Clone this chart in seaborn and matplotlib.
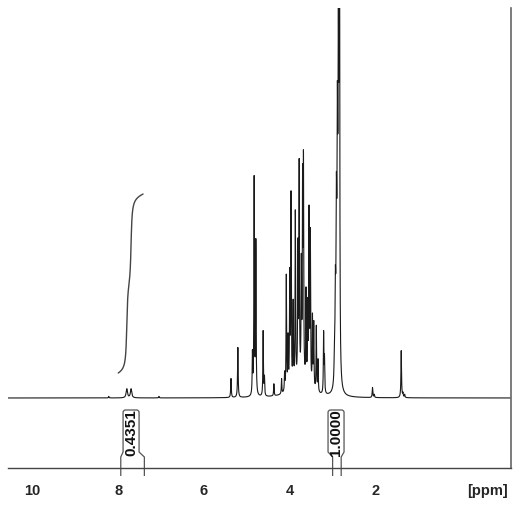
import numpy as np
import pandas as pd
import matplotlib
matplotlib.use("Agg")
import matplotlib.pyplot as plt
import seaborn as sns
from matplotlib.path import Path
from matplotlib.patches import PathPatch

# peak list: position (ppm), height (px above baseline), half width (ppm)
peak_ppm = [8.22, 7.80, 7.70, 7.05, 5.37, 5.21, 4.87, 4.83, 4.79, 4.62, 4.59, 4.37, 4.19, 4.12,
            4.08, 4.04, 4.00, 3.97, 3.92, 3.87, 3.81, 3.78, 3.73, 3.70, 3.68, 3.62, 3.58, 3.55,
            3.52, 3.47, 3.44, 3.38, 3.34, 3.21, 3.19, 3.75,
            2.959, 2.936, 2.912, 2.889, 2.866, 2.842, 2.07, 2.03, 1.40, 1.36, 1.32]
peak_height = [1.5, 9, 9, 1.5, 19, 50, 40, 216, 152, 65, 18, 12, 15, 18,
               115, 50, 110, 190, 80, 170, 130, 212, 110, 188, 208, 90, 75, 170,
               150, 70, 65, 65, 32, 60, 34, 14,
               20, 85, 155, 225, 300, 900, 10, 3, 47, 4, 3]
peak_hw = ([0.008, 0.018, 0.018, 0.008, 0.008, 0.008] + [0.007] * 29 + [0.22]
           + [0.01] * 5 + [0.006] + [0.008] * 5)

# integral regions: (left ppm, right ppm), value shown
integral_ranges = [(7.94, 7.39), (3.00, 2.80)]
integral_values = ["0.4351", "1.0000"]
integral_label_ppm = [7.70, 2.92]
# drawn integral trace (first region), px above baseline
trace_range = (8.00, 7.42)
trace_low, trace_high = 25, 204

xlim = (10.57, -1.16)
ylim = (-70, 390)
major_ticks = [10, 8, 6, 4, 2, 0]
major_labels = ["10", "8", "6", "4", "2", ""]

ppm = np.linspace(xlim[0], xlim[1], 24000)
spec = np.zeros_like(ppm)
for p, h, w in zip(peak_ppm, peak_height, peak_hw):
    spec += h / (1 + ((ppm - p) / w) ** 2)
df = pd.DataFrame({"ppm": ppm, "intensity": spec})

sns.set_style("white")
plt.rcParams["font.family"] = ["Liberation Sans", "DejaVu Sans"]

fig = plt.figure(figsize=(5.19, 5.12), dpi=100)
ax = fig.add_axes([8 / 519, 44 / 512, 503 / 519, 460 / 512])
sns.lineplot(data=df, x="ppm", y="intensity", ax=ax, color="#1a1a1a",
             linewidth=0.8, estimator=None, sort=False)

# integral trace
m = (ppm <= trace_range[0]) & (ppm >= trace_range[1])
cum = np.cumsum(spec[m])
cum = (cum - cum[0]) / (cum[-1] - cum[0])
ax.plot(ppm[m], trace_low + (trace_high - trace_low) * cum, color="#444", lw=1)

# integral label boxes under the baseline
px_per_ppm = 503 / (xlim[0] - xlim[1])
hwb = 8 / px_per_ppm
r = 2.5 / px_per_ppm
for (l1, l2), val, c in zip(integral_ranges, integral_values, integral_label_ppm):
    verts = [(l1, -78), (l1, -59), (c + hwb, -54), (c + hwb, -14.5),
             (c + hwb, -12), (c + hwb - r, -12), (c - hwb + r, -12),
             (c - hwb, -12), (c - hwb, -14.5), (c - hwb, -54), (l2, -59), (l2, -78)]
    codes = [Path.MOVETO, Path.LINETO, Path.LINETO, Path.LINETO,
             Path.CURVE3, Path.CURVE3, Path.LINETO,
             Path.CURVE3, Path.CURVE3, Path.LINETO, Path.LINETO, Path.LINETO]
    ax.add_patch(PathPatch(Path(verts, codes), fill=False, edgecolor="#555",
                           lw=0.9, clip_on=False))
    ax.text(c, -35, val, rotation=90, ha="center", va="center",
            fontsize=11, fontweight="bold", color="#111")

ax.set_xlim(*xlim)
ax.set_ylim(*ylim)
ax.set_yticks([])
ax.set_xticks(major_ticks)
ax.set_xticklabels(major_labels)
ax.set_xticks(np.arange(-1.0, 10.51, 0.5), minor=True)
ax.tick_params(axis="x", which="major", direction="out", length=7.2, width=1,
               color="#444", pad=4, labelsize=10.5)
ax.tick_params(axis="x", which="minor", direction="out", length=4.3, width=1, color="#444")
plt.setp(ax.get_xticklabels(), fontweight="bold")
ax.set_xlabel("")
ax.set_ylabel("")
ax.text(0.994, -0.05, "[ppm]", transform=ax.transAxes, ha="right", va="center",
        fontsize=10.5, fontweight="bold")

for s in ["left", "top"]:
    ax.spines[s].set_visible(False)
ax.spines["right"].set_color("#666")
ax.spines["right"].set_linewidth(1.2)
ax.spines["bottom"].set_color("#444")
ax.spines["bottom"].set_linewidth(1)

fig.savefig("out.png", dpi=100)
